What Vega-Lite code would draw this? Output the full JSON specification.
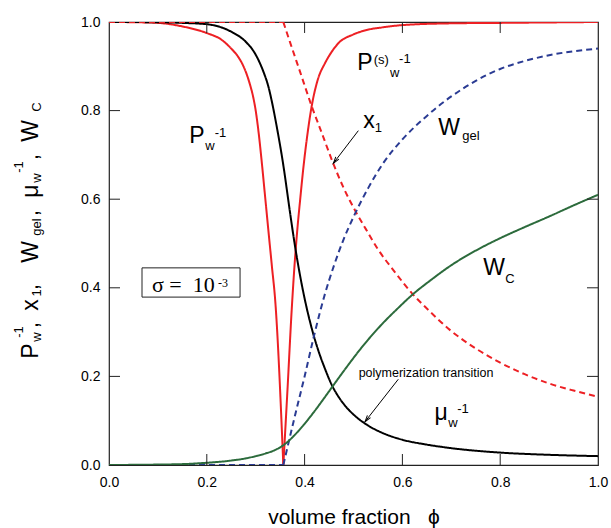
{
  "$schema": "https://vega.github.io/schema/vega-lite/v6.json",
  "width": 489,
  "height": 443,
  "autosize": "none",
  "padding": {"left": 109, "top": 22, "right": 13, "bottom": 63},
  "background": "white",
  "config": {
    "view": {"stroke": "#222", "strokeWidth": 1.2},
    "font": "Liberation Sans",
    "axis": {
      "labelFont": "Liberation Sans", "labelFontSize": 14, "labelColor": "#000",
      "domain": false, "ticks": false,
      "grid": false, "labelFlush": false, "labelOverlap": false,
      "titleFont": "Liberation Sans", "titleFontWeight": "normal", "titleColor": "#000"
    }
  },
  "datasets": {
    "curves": [
      {"s":"Pw","phi":0,"v":1},{"s":"Pw","phi":0.05,"v":0.9995},{"s":"Pw","phi":0.1,"v":0.998},{"s":"Pw","phi":0.15,"v":0.99},{"s":"Pw","phi":0.2,"v":0.975},{"s":"Pw","phi":0.23,"v":0.96},{"s":"Pw","phi":0.25,"v":0.94},{"s":"Pw","phi":0.265,"v":0.92},{"s":"Pw","phi":0.275,"v":0.9},{"s":"Pw","phi":0.288,"v":0.86},{"s":"Pw","phi":0.295,"v":0.83},{"s":"Pw","phi":0.3,"v":0.8},{"s":"Pw","phi":0.306,"v":0.75},{"s":"Pw","phi":0.312,"v":0.688},{"s":"Pw","phi":0.318,"v":0.62},{"s":"Pw","phi":0.325,"v":0.54},{"s":"Pw","phi":0.333,"v":0.45},{"s":"Pw","phi":0.34,"v":0.37},{"s":"Pw","phi":0.3565,"v":0},
      {"s":"Ps","phi":0.3565,"v":0},{"s":"Ps","phi":0.365,"v":0.17},{"s":"Ps","phi":0.3736,"v":0.35},{"s":"Ps","phi":0.38,"v":0.46},{"s":"Ps","phi":0.385,"v":0.53},{"s":"Ps","phi":0.391,"v":0.6},{"s":"Ps","phi":0.397,"v":0.666},{"s":"Ps","phi":0.405,"v":0.74},{"s":"Ps","phi":0.4145,"v":0.81},{"s":"Ps","phi":0.427,"v":0.87},{"s":"Ps","phi":0.4417,"v":0.907},{"s":"Ps","phi":0.455,"v":0.932},{"s":"Ps","phi":0.469,"v":0.952},{"s":"Ps","phi":0.5,"v":0.972},{"s":"Ps","phi":0.527,"v":0.982},{"s":"Ps","phi":0.56,"v":0.988},{"s":"Ps","phi":0.6,"v":0.993},{"s":"Ps","phi":0.7,"v":0.997},{"s":"Ps","phi":0.8,"v":0.998},{"s":"Ps","phi":0.9,"v":0.999},{"s":"Ps","phi":1,"v":1},
      {"s":"mu","phi":0,"v":1},{"s":"mu","phi":0.1,"v":0.9995},{"s":"mu","phi":0.15,"v":0.998},{"s":"mu","phi":0.2,"v":0.995},{"s":"mu","phi":0.25,"v":0.978},{"s":"mu","phi":0.28,"v":0.955},{"s":"mu","phi":0.298,"v":0.93},{"s":"mu","phi":0.315,"v":0.89},{"s":"mu","phi":0.326,"v":0.854},{"s":"mu","phi":0.335,"v":0.81},{"s":"mu","phi":0.343,"v":0.764},{"s":"mu","phi":0.357,"v":0.673},{"s":"mu","phi":0.365,"v":0.611},{"s":"mu","phi":0.372,"v":0.556},{"s":"mu","phi":0.38,"v":0.497},{"s":"mu","phi":0.39,"v":0.432},{"s":"mu","phi":0.4,"v":0.376},{"s":"mu","phi":0.41,"v":0.328},{"s":"mu","phi":0.42,"v":0.287},{"s":"mu","phi":0.43,"v":0.252},{"s":"mu","phi":0.44,"v":0.222},{"s":"mu","phi":0.455,"v":0.182},{"s":"mu","phi":0.47,"v":0.153},{"s":"mu","phi":0.485,"v":0.131},{"s":"mu","phi":0.503,"v":0.111},{"s":"mu","phi":0.53,"v":0.089},{"s":"mu","phi":0.56,"v":0.072},{"s":"mu","phi":0.6,"v":0.057},{"s":"mu","phi":0.65,"v":0.046},{"s":"mu","phi":0.7,"v":0.038},{"s":"mu","phi":0.8,"v":0.028},{"s":"mu","phi":0.9,"v":0.023},{"s":"mu","phi":1,"v":0.02},
      {"s":"x1a","phi":0,"v":1},{"s":"x1a","phi":0.3565,"v":1},
      {"s":"x1","phi":0.3565,"v":1},{"s":"x1","phi":0.37,"v":0.955},{"s":"x1","phi":0.3906,"v":0.888},{"s":"x1","phi":0.4145,"v":0.81},{"s":"x1","phi":0.435,"v":0.75},{"s":"x1","phi":0.457,"v":0.685},{"s":"x1","phi":0.48,"v":0.625},{"s":"x1","phi":0.503,"v":0.575},{"s":"x1","phi":0.525,"v":0.533},{"s":"x1","phi":0.55,"v":0.487},{"s":"x1","phi":0.585,"v":0.435},{"s":"x1","phi":0.62,"v":0.387},{"s":"x1","phi":0.652,"v":0.351},{"s":"x1","phi":0.697,"v":0.305},{"s":"x1","phi":0.75,"v":0.263},{"s":"x1","phi":0.8,"v":0.231},{"s":"x1","phi":0.85,"v":0.205},{"s":"x1","phi":0.9,"v":0.184},{"s":"x1","phi":0.95,"v":0.168},{"s":"x1","phi":1,"v":0.154},
      {"s":"Wg0","phi":0,"v":0},{"s":"Wg0","phi":0.3565,"v":0},
      {"s":"Wgel","phi":0.3565,"v":0},{"s":"Wgel","phi":0.38,"v":0.11},{"s":"Wgel","phi":0.4,"v":0.2},{"s":"Wgel","phi":0.42,"v":0.295},{"s":"Wgel","phi":0.44,"v":0.38},{"s":"Wgel","phi":0.46,"v":0.45},{"s":"Wgel","phi":0.48,"v":0.51},{"s":"Wgel","phi":0.5,"v":0.56},{"s":"Wgel","phi":0.53,"v":0.625},{"s":"Wgel","phi":0.56,"v":0.68},{"s":"Wgel","phi":0.6,"v":0.735},{"s":"Wgel","phi":0.65,"v":0.788},{"s":"Wgel","phi":0.7,"v":0.832},{"s":"Wgel","phi":0.75,"v":0.867},{"s":"Wgel","phi":0.8,"v":0.894},{"s":"Wgel","phi":0.85,"v":0.912},{"s":"Wgel","phi":0.9,"v":0.925},{"s":"Wgel","phi":0.95,"v":0.934},{"s":"Wgel","phi":1,"v":0.94},
      {"s":"Wc","phi":0,"v":0},{"s":"Wc","phi":0.1,"v":0.001},{"s":"Wc","phi":0.15,"v":0.002},{"s":"Wc","phi":0.2,"v":0.005},{"s":"Wc","phi":0.25,"v":0.01},{"s":"Wc","phi":0.28,"v":0.015},{"s":"Wc","phi":0.3,"v":0.02},{"s":"Wc","phi":0.32,"v":0.026},{"s":"Wc","phi":0.34,"v":0.034},{"s":"Wc","phi":0.357,"v":0.045},{"s":"Wc","phi":0.37,"v":0.057},{"s":"Wc","phi":0.38,"v":0.068},{"s":"Wc","phi":0.39,"v":0.08},{"s":"Wc","phi":0.4,"v":0.093},{"s":"Wc","phi":0.42,"v":0.121},{"s":"Wc","phi":0.44,"v":0.151},{"s":"Wc","phi":0.455,"v":0.174},{"s":"Wc","phi":0.47,"v":0.197},{"s":"Wc","phi":0.49,"v":0.227},{"s":"Wc","phi":0.51,"v":0.256},{"s":"Wc","phi":0.53,"v":0.283},{"s":"Wc","phi":0.56,"v":0.32},{"s":"Wc","phi":0.59,"v":0.353},{"s":"Wc","phi":0.62,"v":0.384},{"s":"Wc","phi":0.66,"v":0.419},{"s":"Wc","phi":0.7,"v":0.451},{"s":"Wc","phi":0.75,"v":0.484},{"s":"Wc","phi":0.8,"v":0.512},{"s":"Wc","phi":0.85,"v":0.537},{"s":"Wc","phi":0.9,"v":0.561},{"s":"Wc","phi":0.95,"v":0.586},{"s":"Wc","phi":1,"v":0.61}
    ],
    "tickvals": [{"t":0.2},{"t":0.4},{"t":0.6},{"t":0.8}],
    "labels": [
      {"k":"B","phi":0.18,"v":0.727,"t":"P"},{"k":"B","phi":0.5235,"v":0.8916,"t":"P"},{"k":"B","phi":0.5317,"v":0.7607,"t":"x"},{"k":"B","phi":0.6953,"v":0.745,"t":"W"},{"k":"B","phi":0.7873,"v":0.4289,"t":"W"},{"k":"B","phi":0.679,"v":0.1016,"t":"μ"},
      {"k":"S","phi":0.2065,"v":0.711,"t":"w"},{"k":"S","phi":0.584,"v":0.876,"t":"w"},{"k":"S","phi":0.551,"v":0.7517,"t":"1"},{"k":"S","phi":0.7403,"v":0.7336,"t":"gel"},{"k":"S","phi":0.82,"v":0.4108,"t":"C"},{"k":"S","phi":0.7035,"v":0.0858,"t":"w"},
      {"k":"U","phi":0.228,"v":0.74,"t":"-1"},{"k":"U","phi":0.557,"v":0.905,"t":"(s)"},{"k":"U","phi":0.605,"v":0.9075,"t":"-1"},{"k":"U","phi":0.7239,"v":0.1174,"t":"-1"},
      {"k":"poly","phi":0.6483,"v":0.1986,"t":"polymerization transition"},
      {"k":"sig","phi":0.0879,"v":0.3905,"t":"σ\u00a0=\u00a0\u00a010"},{"k":"sig3","phi":0.2229,"v":0.4018,"t":"-3"},
      {"k":"B90","phi":-0.1452,"v":0.2573,"t":"P"},{"k":"B90","phi":-0.1452,"v":0.316,"t":","},{"k":"B90","phi":-0.1452,"v":0.361,"t":"x"},{"k":"B90","phi":-0.1452,"v":0.4018,"t":","},{"k":"B90","phi":-0.1452,"v":0.4808,"t":"W"},{"k":"B90","phi":-0.1452,"v":0.5688,"t":","},{"k":"B90","phi":-0.1452,"v":0.6185,"t":"μ"},{"k":"B90","phi":-0.1452,"v":0.6953,"t":","},{"k":"B90","phi":-0.1452,"v":0.754,"t":"W"},
      {"k":"S90","phi":-0.139,"v":0.2889,"t":"w"},{"k":"S90","phi":-0.139,"v":0.3883,"t":"1"},{"k":"S90","phi":-0.139,"v":0.5372,"t":"gel"},{"k":"S90","phi":-0.139,"v":0.6479,"t":"w"},{"k":"S90","phi":-0.139,"v":0.8081,"t":"C"},
      {"k":"U90","phi":-0.1759,"v":0.3002,"t":"-1"},{"k":"U90","phi":-0.1759,"v":0.6727,"t":"-1"}
    ],
    "arrows": [
      {"phi":0.5099,"v":0.7547,"phi2":0.4588,"v2":0.681},
      {"phi":0.5916,"v":0.1935,"phi2":0.5235,"v2":0.0977}
    ],
    "box": [
      {"phi":0.0675,"v":0.379,"phi2":0.268,"v2":0.445}
    ]
  },
  "layer": [
    {
      "data": {"name": "curves"},
      "mark": {"type": "line", "strokeWidth": 2, "clip": true, "interpolate": "monotone"},
      "encoding": {
        "x": {"field": "phi", "type": "quantitative", "scale": {"domain": [0, 1], "nice": false, "zero": false},
              "axis": {"orient": "bottom", "values": [0, 0.2, 0.4, 0.6, 0.8, 1], "format": ".1f", "labelPadding": 10,
                       "title": "volume fraction\u00a0\u00a0\u00a0ϕ", "titleFontSize": 21, "titlePadding": 17}},
        "y": {"field": "v", "type": "quantitative", "scale": {"domain": [0, 1], "nice": false},
              "axis": {"orient": "left", "values": [0, 0.2, 0.4, 0.6, 0.8, 1], "format": ".1f", "labelPadding": 9, "title": null}},
        "color": {"field": "s", "type": "nominal", "legend": null,
                  "scale": {"domain": ["Pw", "Ps", "mu", "x1a", "x1", "Wg0", "Wgel", "Wc"], "range": ["#ed2024", "#ed2024", "#000000", "#ed2024", "#ed2024", "#2a3b93", "#2a3b93", "#2c6b3c"]}},
        "strokeDash": {"field": "s", "type": "nominal", "legend": null,
                  "scale": {"domain": ["Pw", "Ps", "mu", "x1a", "x1", "Wg0", "Wgel", "Wc"], "range": [[1, 0], [1, 0], [1, 0], [6, 4], [6, 4], [6, 4], [6, 4], [1, 0]]}}
      }
    },
    {
      "data": {"name": "tickvals"},
      "mark": {"type": "rule", "color": "#222", "strokeWidth": 1},
      "encoding": {
        "x": {"field": "t", "type": "quantitative", "axis": null, "scale": {"domain": [0, 1]}},
        "y": {"datum": 0, "type": "quantitative", "axis": null, "scale": {"domain": [0, 1]}},
        "y2": {"datum": 0.0248}
      }
    },
    {
      "data": {"name": "tickvals"},
      "mark": {"type": "rule", "color": "#222", "strokeWidth": 1},
      "encoding": {
        "x": {"field": "t", "type": "quantitative", "axis": null, "scale": {"domain": [0, 1]}},
        "y": {"datum": 1, "type": "quantitative", "axis": null, "scale": {"domain": [0, 1]}},
        "y2": {"datum": 0.9752}
      }
    },
    {
      "data": {"name": "tickvals"},
      "mark": {"type": "rule", "color": "#222", "strokeWidth": 1},
      "encoding": {
        "y": {"field": "t", "type": "quantitative", "axis": null, "scale": {"domain": [0, 1]}},
        "x": {"datum": 0, "type": "quantitative", "axis": null, "scale": {"domain": [0, 1]}},
        "x2": {"datum": 0.0225}
      }
    },
    {
      "data": {"name": "tickvals"},
      "mark": {"type": "rule", "color": "#222", "strokeWidth": 1},
      "encoding": {
        "y": {"field": "t", "type": "quantitative", "axis": null, "scale": {"domain": [0, 1]}},
        "x": {"datum": 1, "type": "quantitative", "axis": null, "scale": {"domain": [0, 1]}},
        "x2": {"datum": 0.9775}
      }
    },
    {
      "data": {"name": "box"},
      "mark": {"type": "rect", "filled": false, "stroke": "#222", "strokeWidth": 1},
      "encoding": {
        "x": {"field": "phi", "type": "quantitative", "axis": null, "scale": {"domain": [0, 1]}},
        "x2": {"field": "phi2"},
        "y": {"field": "v", "type": "quantitative", "axis": null, "scale": {"domain": [0, 1]}},
        "y2": {"field": "v2"}
      }
    },
    {
      "data": {"name": "arrows"},
      "mark": {"type": "rule", "color": "#000", "strokeWidth": 1},
      "encoding": {
        "x": {"field": "phi", "type": "quantitative", "axis": null, "scale": {"domain": [0, 1]}},
        "x2": {"field": "phi2"},
        "y": {"field": "v", "type": "quantitative", "axis": null, "scale": {"domain": [0, 1]}},
        "y2": {"field": "v2"}
      }
    },
    {
      "data": {"name": "arrows"},
      "mark": {"type": "point", "shape": "M-0.7,2.4L0,0L0.7,2.4", "filled": false, "stroke": "#000", "strokeWidth": 1, "size": 30, "angle": 217, "opacity": 1},
      "encoding": {
        "x": {"field": "phi2", "type": "quantitative", "axis": null, "scale": {"domain": [0, 1]}},
        "y": {"field": "v2", "type": "quantitative", "axis": null, "scale": {"domain": [0, 1]}}
      }
    },
    {
      "data": {"name": "labels"},
      "transform": [{"filter": "datum.k == 'B'"}],
      "mark": {"type": "text", "font": "Liberation Sans", "fontSize": 23, "align": "center", "baseline": "alphabetic", "color": "#000"},
      "encoding": {
        "x": {"field": "phi", "type": "quantitative", "axis": null, "scale": {"domain": [0, 1]}},
        "y": {"field": "v", "type": "quantitative", "axis": null, "scale": {"domain": [0, 1]}},
        "text": {"field": "t"}
      }
    },
    {
      "data": {"name": "labels"},
      "transform": [{"filter": "datum.k == 'S' || datum.k == 'U'"}],
      "mark": {"type": "text", "font": "Liberation Sans", "fontSize": 13, "align": "center", "baseline": "alphabetic", "color": "#000"},
      "encoding": {
        "x": {"field": "phi", "type": "quantitative", "axis": null, "scale": {"domain": [0, 1]}},
        "y": {"field": "v", "type": "quantitative", "axis": null, "scale": {"domain": [0, 1]}},
        "text": {"field": "t"}
      }
    },
    {
      "data": {"name": "labels"},
      "transform": [{"filter": "datum.k == 'poly'"}],
      "mark": {"type": "text", "font": "Liberation Sans", "fontSize": 12.5, "align": "center", "baseline": "alphabetic", "color": "#000"},
      "encoding": {
        "x": {"field": "phi", "type": "quantitative", "axis": null, "scale": {"domain": [0, 1]}},
        "y": {"field": "v", "type": "quantitative", "axis": null, "scale": {"domain": [0, 1]}},
        "text": {"field": "t"}
      }
    },
    {
      "data": {"name": "labels"},
      "transform": [{"filter": "datum.k == 'sig'"}],
      "mark": {"type": "text", "font": "Liberation Serif", "fontSize": 22, "align": "left", "baseline": "alphabetic", "color": "#000"},
      "encoding": {
        "x": {"field": "phi", "type": "quantitative", "axis": null, "scale": {"domain": [0, 1]}},
        "y": {"field": "v", "type": "quantitative", "axis": null, "scale": {"domain": [0, 1]}},
        "text": {"field": "t"}
      }
    },
    {
      "data": {"name": "labels"},
      "transform": [{"filter": "datum.k == 'sig3'"}],
      "mark": {"type": "text", "font": "Liberation Serif", "fontSize": 12, "align": "left", "baseline": "alphabetic", "color": "#000"},
      "encoding": {
        "x": {"field": "phi", "type": "quantitative", "axis": null, "scale": {"domain": [0, 1]}},
        "y": {"field": "v", "type": "quantitative", "axis": null, "scale": {"domain": [0, 1]}},
        "text": {"field": "t"}
      }
    },
    {
      "data": {"name": "labels"},
      "transform": [{"filter": "datum.k == 'B90'"}],
      "mark": {"type": "text", "font": "Liberation Sans", "fontSize": 23, "align": "center", "baseline": "alphabetic", "angle": 270, "color": "#000"},
      "encoding": {
        "x": {"field": "phi", "type": "quantitative", "axis": null, "scale": {"domain": [0, 1]}},
        "y": {"field": "v", "type": "quantitative", "axis": null, "scale": {"domain": [0, 1]}},
        "text": {"field": "t"}
      }
    },
    {
      "data": {"name": "labels"},
      "transform": [{"filter": "datum.k == 'S90' || datum.k == 'U90'"}],
      "mark": {"type": "text", "font": "Liberation Sans", "fontSize": 13, "align": "center", "baseline": "alphabetic", "angle": 270, "color": "#000"},
      "encoding": {
        "x": {"field": "phi", "type": "quantitative", "axis": null, "scale": {"domain": [0, 1]}},
        "y": {"field": "v", "type": "quantitative", "axis": null, "scale": {"domain": [0, 1]}},
        "text": {"field": "t"}
      }
    }
  ],
  "resolve": {"axis": {"x": "independent", "y": "independent"}}
}
